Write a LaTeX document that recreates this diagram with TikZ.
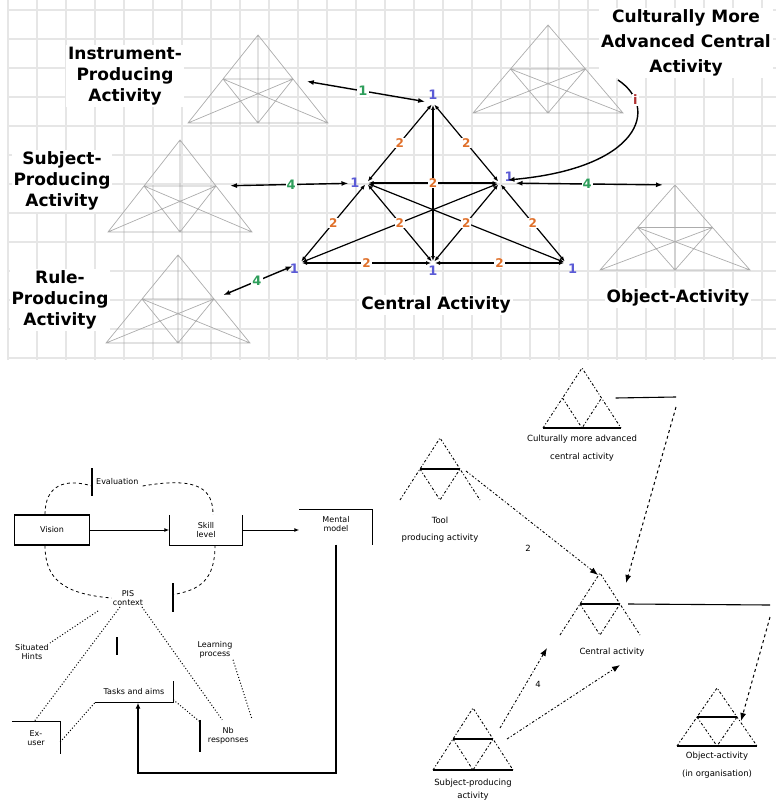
\documentclass[tikz,border=0pt]{standalone}
\usepackage{fontspec}
\setmainfont{DejaVu Sans}
\usepackage{tikz}
\usetikzlibrary{arrows.meta, positioning, calc}
\definecolor{vertexBlue}{HTML}{5B5BD6}
\definecolor{edgeOrange}{HTML}{E0702A}
\definecolor{linkGreen}{HTML}{2E9E5B}
\definecolor{linkRed}{HTML}{B03030}
\definecolor{gridGray}{HTML}{E6E6E6}

% corner points of one activity triangle: name, apex x, apex y, half width, height
\newcommand{\acttri}[5]{%
  \coordinate (#1-a) at (#2,#3);
  \coordinate (#1-r) at ({#2-#4},{#3+#5});
  \coordinate (#1-c) at (#2,{#3+#5});
  \coordinate (#1-d) at ({#2+#4},{#3+#5});
  \coordinate (#1-s) at ($(#1-a)!0.5!(#1-r)$);
  \coordinate (#1-o) at ($(#1-a)!0.5!(#1-d)$);
}
\newcommand{\actlines}[2]{%
  \draw[#2] (#1-a) -- (#1-r) -- (#1-d) -- cycle (#1-s) -- (#1-o) (#1-a) -- (#1-c)
    (#1-s) -- (#1-c) -- (#1-o) (#1-s) -- (#1-d) (#1-o) -- (#1-r);
}

\begin{document}
\begin{tikzpicture}[
  x=1pt, y=-1pt,
  gridline/.style={draw=gridGray, line width=1.3pt},
  actlabel/.style={font=\fontsize{17}{21}\selectfont\bfseries, align=center, fill=white, inner sep=2pt},
  ghost/.style={draw=gray!65, line width=0.7pt},
  corearrow/.style={{Latex[length=5pt,width=4pt]}-{Latex[length=5pt,width=4pt]}, line width=1.2pt,
                    shorten <=2pt, shorten >=2pt},
  edgenum/.style={text=edgeOrange, font=\fontsize{12}{12}\selectfont\bfseries, fill=white, inner sep=1pt},
  vtx/.style={text=vertexBlue, font=\fontsize{13}{13}\selectfont\bfseries, inner sep=1pt},
  linkarrow/.style={{Latex[length=7pt,width=5pt]}-{Latex[length=7pt,width=5pt]}, line width=1.4pt},
  linknum/.style={font=\fontsize{13}{13}\selectfont\bfseries, fill=white, inner sep=1pt},
  tinytext/.style={font=\fontsize{8}{9.5}\selectfont, align=center, inner sep=1pt},
  boxline/.style={line width=1.1pt},
  flow/.style={-{Latex[length=5pt,width=4pt]}, line width=1pt},
  loopline/.style={dashed, line width=0.8pt},
  dotline/.style={dotted, line width=1pt},
  netline/.style={dash pattern=on 2.5pt off 2pt on 1pt off 2pt, line width=0.9pt},
  netarrow/.style={netline, -{Latex[length=8pt,width=6pt]}},
  route/.style={-{Latex[length=6pt,width=5pt]}, line width=1.3pt}
]
\useasboundingbox (0,0) rectangle (776,810);

% grid paper of the upper figure
\foreach \gx in {8,37,...,776} \draw[gridline] (\gx,0) -- (\gx,360);
\foreach \gy in {10,39,...,360} \draw[gridline] (8,\gy) -- (776,\gy);

% upper figure: central activity and its neighbours
\acttri{inst}{258}{35}{70}{88}
\acttri{adv}{548}{25}{75}{88}
\acttri{subj}{180}{140}{72}{92}
\acttri{rule}{178}{255}{72}{88}
\acttri{obj}{675}{185}{75}{85}
\acttri{cen}{433}{103}{133}{160}
\foreach \t in {inst,adv,subj,rule,obj} {\actlines{\t}{ghost}}

\draw[corearrow] (cen-a) -- (cen-s) node[midway,edgenum] {2};
\draw[corearrow] (cen-a) -- (cen-o) node[midway,edgenum] {2};
\draw[corearrow] (cen-a) -- (cen-c);
\draw[corearrow] (cen-s) -- (cen-o) node[midway,edgenum] {2};
\draw[corearrow] (cen-s) -- (cen-r) node[midway,edgenum] {2};
\draw[corearrow] (cen-o) -- (cen-d) node[midway,edgenum] {2};
\draw[corearrow] (cen-s) -- (cen-d);
\draw[corearrow] (cen-o) -- (cen-r);
\draw[corearrow] (cen-s) -- (cen-c) node[midway,edgenum] {2};
\draw[corearrow] (cen-o) -- (cen-c) node[midway,edgenum] {2};
\draw[corearrow] (cen-r) -- (cen-c) node[midway,edgenum] {2};
\draw[corearrow] (cen-c) -- (cen-d) node[midway,edgenum] {2};

\node[vtx, above=2pt of cen-a] (v-a) {1};
\node[vtx, left=6pt of cen-s] (v-s) {1};
\node[vtx, above right=0pt and 4pt of cen-o] (v-o) {1};
\node[vtx, below left=0pt and 0pt of cen-r] (v-r) {1};
\node[vtx, below=2pt of cen-c] (v-c) {1};
\node[vtx, below right=0pt and 1pt of cen-d] (v-d) {1};

\node[actlabel] (instlabel) at (125,76) {Instrument-\\Producing\\Activity};
\node[actlabel] (subjlabel) at (62,181) {Subject-\\Producing\\Activity};
\node[actlabel] (rulelabel) at (60,300) {Rule-\\Producing\\Activity};
\node[actlabel, font=\fontsize{17}{25}\selectfont\bfseries] (advlabel) at (686,43) {Culturally More\\Advanced Central\\Activity};
\node[actlabel] (cenlabel) at (436,305) {Central Activity};
\node[actlabel] (objlabel) at (678,298) {Object-Activity};

\draw[linkarrow, shorten <=14pt, shorten >=8pt] (inst-o) -- (cen-a) node[midway,linknum,text=linkGreen] {1};
\draw[linkarrow, shorten <=14pt, shorten >=18pt] (subj-o) -- (cen-s) node[midway,linknum,text=linkGreen] {4};
\draw[linkarrow, shorten <=16pt, shorten >=12pt] (cen-o) -- (obj-a) node[midway,linknum,text=linkGreen] {4};
\draw[linkarrow, shorten <=10pt, shorten >=8pt] (rule-o) -- (cen-r) node[midway,linknum,text=linkGreen] {4};
\coordinate (advout) at (618,80);
\draw[-{Latex[length=7pt,width=5pt]}, line width=1.4pt] (advout) .. controls (660,108) and (640,168) .. ([xshift=8pt,yshift=3pt]cen-o)
  node[pos=0.2,linknum,text=linkRed] {i};

% lower left: feedback diagram
\node[tinytext, draw, boxline, minimum width=75pt, minimum height=30pt] (vision) at (52,530) {Vision};
\node[tinytext, minimum width=73pt, minimum height=30pt] (skill) at (206,530) {Skill\\level};
\draw[boxline] (skill.north west) |- (skill.south east) -- (skill.north east);
\node[tinytext, minimum width=73pt, minimum height=35pt, text depth=6pt] (model) at (336,527) {Mental\\model};
\draw[boxline] (model.north west) -- (model.north east) -- (model.south east);
\draw[flow] (vision) -- (skill);
\draw[flow] (skill.east) -- (skill.east -| model.west);

\node[tinytext, anchor=west, minimum height=27pt, inner xsep=4pt] (evl) at (92,482) {Evaluation};
\draw[boxline] (evl.north west) -- (evl.south west);
\draw[loopline] ([xshift=-7pt]vision.north) .. controls (45,485) and (65,478) .. ([yshift=-4pt]evl.west);
\draw[loopline] ([yshift=-4pt]evl.east) .. controls (200,476) and (213,490) .. ([xshift=7pt]skill.north);

\node[tinytext] (pis) at (128,598) {PIS\\context};
\draw[loopline] ([xshift=-7pt]vision.south) .. controls (45,578) and (62,594) .. (pis.west);
\coordinate (bartop) at (173,583);
\coordinate (barbot) at (173,612);
\draw[boxline] (bartop) -- (barbot);
\draw[loopline] ([xshift=9pt]skill.south) .. controls (215,580) and (200,590) .. ($(bartop)!0.4!(barbot)$);

\node[tinytext, minimum width=48pt, minimum height=32pt] (expert) at (36,738) {Ex-\\user};
\draw[boxline] (expert.north west) -- (expert.north east) -- (expert.south east);
\node[tinytext, minimum width=78pt, minimum height=21pt] (tasks) at (134,692) {Tasks and aims};
\draw[boxline] (tasks.south west) -- (tasks.south east) -- (tasks.north east);
\node[tinytext, minimum width=56pt, minimum height=32pt, anchor=west] (nb) at (200,736) {Nb\\responses};
\draw[boxline] (nb.north west) -- (nb.south west);
\node[tinytext] (hints) at (32,652) {Situated\\Hints};
\node[tinytext] (process) at (215,650) {Learning\\process};

\draw[dotline] ([xshift=-8pt]pis.south) -- ([xshift=-2pt]expert.north);
\draw[dotline] ([xshift=14pt]pis.south) -- ([xshift=-6pt]nb.north);
\draw[dotline] ([xshift=-30pt,yshift=-4pt]pis.south) -- (hints.north east);
\draw[dotline] ([xshift=18pt]process.south) -- ([xshift=24pt]nb.north);
\draw[dotline] ([yshift=-4pt]expert.east) -- (tasks.south west);
\draw[dotline] ([yshift=3pt]tasks.south east) -- ([yshift=-2pt]nb.north west);
\coordinate (tickA) at (117,637);
\coordinate (tickB) at (117,655);
\draw[boxline] (tickA) -- (tickB);

\draw[route] (model.south) -- (model.south |- 0,773) -| ([xshift=4pt]tasks.south);

% lower right: network of activities
\acttri{nadv}{582}{368}{39}{60}
\acttri{ntool}{440}{438}{40}{62}
\acttri{ncen}{600}{573}{40}{62}
\acttri{nsubj}{473}{708}{40}{62}
\acttri{nobj}{717}{688}{40}{58}
\foreach \t in {nadv,ntool,ncen,nsubj,nobj} {
  \draw[netline] (\t-r) -- (\t-a) -- (\t-d);
  \draw[netline] (\t-s) -- (\t-c) -- (\t-o);
}
\draw[boxline] (nadv-r) -- (nadv-d);
\draw[boxline] (ntool-s) -- (ntool-o);
\draw[boxline] (ncen-s) -- (ncen-o);
\draw[boxline] (nsubj-s) -- (nsubj-o);
\draw[boxline] (nsubj-r) -- (nsubj-d);
\draw[boxline] (nobj-s) -- (nobj-o);
\draw[boxline] (nobj-r) -- (nobj-d);

\node[tinytext, font=\fontsize{8.5}{18}\selectfont, below=6pt of nadv-c] (nadvlabel) {Culturally more advanced\\central activity};
\node[tinytext, font=\fontsize{8.5}{17}\selectfont, below=16pt of ntool-c] (ntoollabel) {Tool\\producing activity};
\node[tinytext, font=\fontsize{8.5}{11}\selectfont, below=12pt of ncen-c, xshift=12pt] (ncenlabel) {Central activity};
\node[tinytext, font=\fontsize{8.5}{13}\selectfont, below=8pt of nsubj-c] (nsubjlabel) {Subject-producing\\activity};
\node[tinytext, font=\fontsize{8.5}{18}\selectfont, below=5pt of nobj-c] (nobjlabel) {Object-activity\\(in organisation)};

\draw[netarrow] ([xshift=6pt,yshift=-2pt]ntool-o) -- ([xshift=-2pt,yshift=-2pt]ncen-a) node[pos=0.47, below=24pt, tinytext, font=\fontsize{8.5}{10}\selectfont] {2};
\coordinate (advbend) at (676,397);
\draw[boxline] ([xshift=14pt]nadv-o) -- (advbend);
\draw[loopline, line width=1pt, -{Latex[length=8pt,width=6pt]}] ([yshift=-10pt]advbend) -- ([xshift=26pt,yshift=-10pt]ncen-a);
\coordinate (cenbend) at (770,605);
\draw[boxline] ([xshift=8pt]ncen-o) -- (cenbend);
\draw[loopline, line width=1pt, -{Latex[length=8pt,width=6pt]}] ([yshift=-12pt]cenbend) -- ([xshift=4pt,yshift=-4pt]nobj-o);
\draw[netarrow] ([xshift=7pt,yshift=11pt]nsubj-o) -- ([xshift=-33pt,yshift=-44pt]ncen-s)
  node[pos=0.55, right=8pt, tinytext, font=\fontsize{8.5}{10}\selectfont] {4};
\draw[netarrow] ([xshift=14pt]nsubj-o) -- ([xshift=20pt,yshift=-30pt]ncen-c);
\end{tikzpicture}
\end{document}
